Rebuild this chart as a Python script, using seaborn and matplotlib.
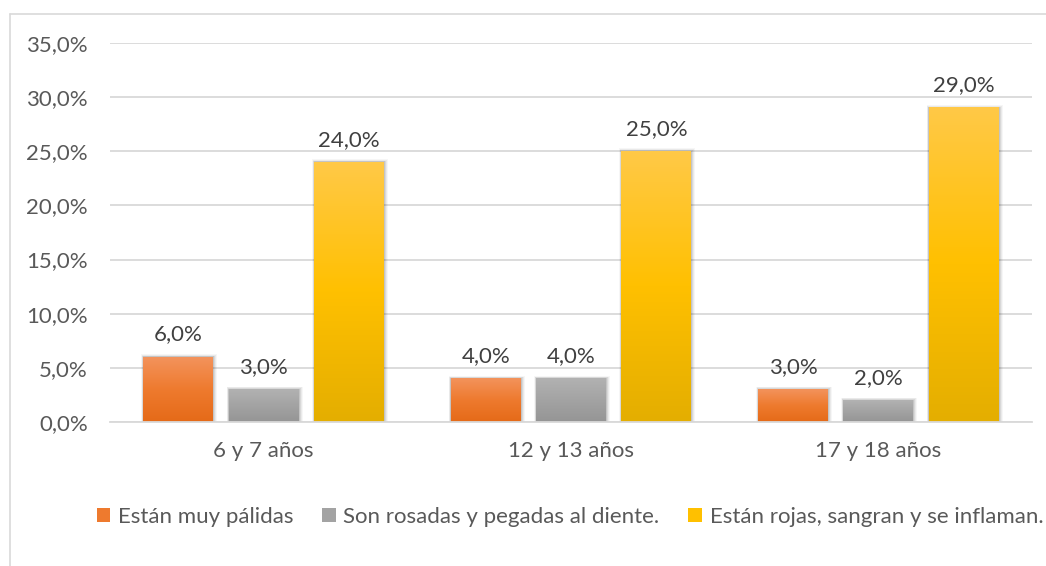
import numpy as np
import pandas as pd
import matplotlib
matplotlib.use("Agg")
import matplotlib.pyplot as plt
import matplotlib.patches as mpatches
import matplotlib.lines as mlines
import seaborn as sns
from matplotlib.colors import LinearSegmentedColormap

categories = ["6 y 7 años", "12 y 13 años", "17 y 18 años"]
series = ["Están muy pálidas", "Son rosadas y pegadas al diente.", "Están rojas, sangran y se inflaman."]
values_palidas = [0.06, 0.04, 0.03]
values_rosadas = [0.03, 0.04, 0.02]
values_rojas = [0.24, 0.25, 0.29]
yticks = [0.0, 0.05, 0.10, 0.15, 0.20, 0.25, 0.30, 0.35]

base_colors = ["#ED7D31", "#A5A5A5", "#FFC000"]
grad = [
    ["#F3935C", "#EE7A2E", "#E56A18"],
    ["#B2B2B2", "#A3A3A3", "#959595"],
    ["#FFC947", "#FFC000", "#E4AE00"],
]

sns.set_theme(style="white")
plt.rcParams["font.family"] = ["Lato", "DejaVu Sans"]

df = pd.DataFrame({
    "cat": categories * 3,
    "serie": [series[0]] * 3 + [series[1]] * 3 + [series[2]] * 3,
    "val": values_palidas + values_rosadas + values_rojas,
})

fig = plt.figure(figsize=(10.46, 5.66), dpi=100)
ax = fig.add_axes([110 / 1046, 1 - 422 / 566, (1032 - 110) / 1046, (422 - 43) / 566])

sns.barplot(data=df, x="cat", y="val", hue="serie", hue_order=series,
            palette=base_colors, width=0.833, gap=0.18, ax=ax, legend=False,
            errorbar=None, saturation=1)

ax.set_ylim(0, 0.35)
ax.set_xlim(-0.5, 2.5)
xlim, ylim = ax.get_xlim(), ax.get_ylim()
pxx = (xlim[1] - xlim[0]) / 922
pxy = (ylim[1] - ylim[0]) / 379

bars = [p for p in ax.patches if isinstance(p, mpatches.Rectangle)]
for i, p in enumerate(bars):
    s = i // 3
    x0, y0 = p.get_x(), p.get_y()
    w, h = p.get_width(), p.get_height()
    cmap = LinearSegmentedColormap.from_list("g%d" % i, grad[s][::-1])
    g = np.linspace(0, 1, 256).reshape(-1, 1)
    # soft shadow
    for k, a in [(4, 0.035), (3, 0.05), (2, 0.07), (1, 0.09)]:
        sh = mpatches.Rectangle((x0 - k * 0.5 * pxx, y0), w + k * 1.5 * pxx, h + k * 0.7 * pxy,
                                facecolor="black", alpha=a, edgecolor="none", zorder=1.5,
                                linewidth=0)
        ax.add_patch(sh)
    p.set_visible(False)
    ax.imshow(g, cmap=cmap, origin="lower", aspect="auto",
              extent=(x0, x0 + w, y0, y0 + h), zorder=2, interpolation="bilinear")
    lab = f"{h * 100:.1f}%".replace(".", ",")
    ax.text(x0 + w / 2, y0 + h + 0.0115, lab, ha="center", va="bottom",
            fontsize=16, color="#404040", zorder=3)

ax.set_xlim(xlim)
ax.set_ylim(ylim)
ax.set_yticks(yticks)
ax.set_yticklabels([f"{v * 100:.1f}%".replace(".", ",") for v in yticks])
ax.yaxis.grid(True, color="#D9D9D9", linewidth=1.3)
ax.set_axisbelow(True)
for sp in ["left", "right", "top"]:
    ax.spines[sp].set_visible(False)
ax.spines["bottom"].set_color("#D9D9D9")
ax.spines["bottom"].set_linewidth(1.3)
ax.tick_params(axis="both", length=0, labelsize=16, labelcolor="#595959")
ax.tick_params(axis="y", pad=16)
ax.tick_params(axis="x", pad=14)
ax.set_xlabel("")
ax.set_ylabel("")

handles = [mpatches.Patch(facecolor=grad[s][1], edgecolor="none") for s in range(3)]
fig.legend(handles, series, loc="center", bbox_to_anchor=(570 / 1046, 1 - 517 / 566),
           ncol=3, frameon=False, fontsize=16, labelcolor="#595959",
           handlelength=0.6, handleheight=0.6, handletextpad=0.35, columnspacing=1.3)

fig.add_artist(mlines.Line2D([10 / 1046, 10 / 1046], [0, 1 - 14 / 566],
                             transform=fig.transFigure, color="#D9D9D9", lw=1.2))
fig.add_artist(mlines.Line2D([10 / 1046, 1], [1 - 14 / 566, 1 - 14 / 566],
                             transform=fig.transFigure, color="#D9D9D9", lw=1.2))

fig.savefig("out.png", dpi=100, facecolor="white")
